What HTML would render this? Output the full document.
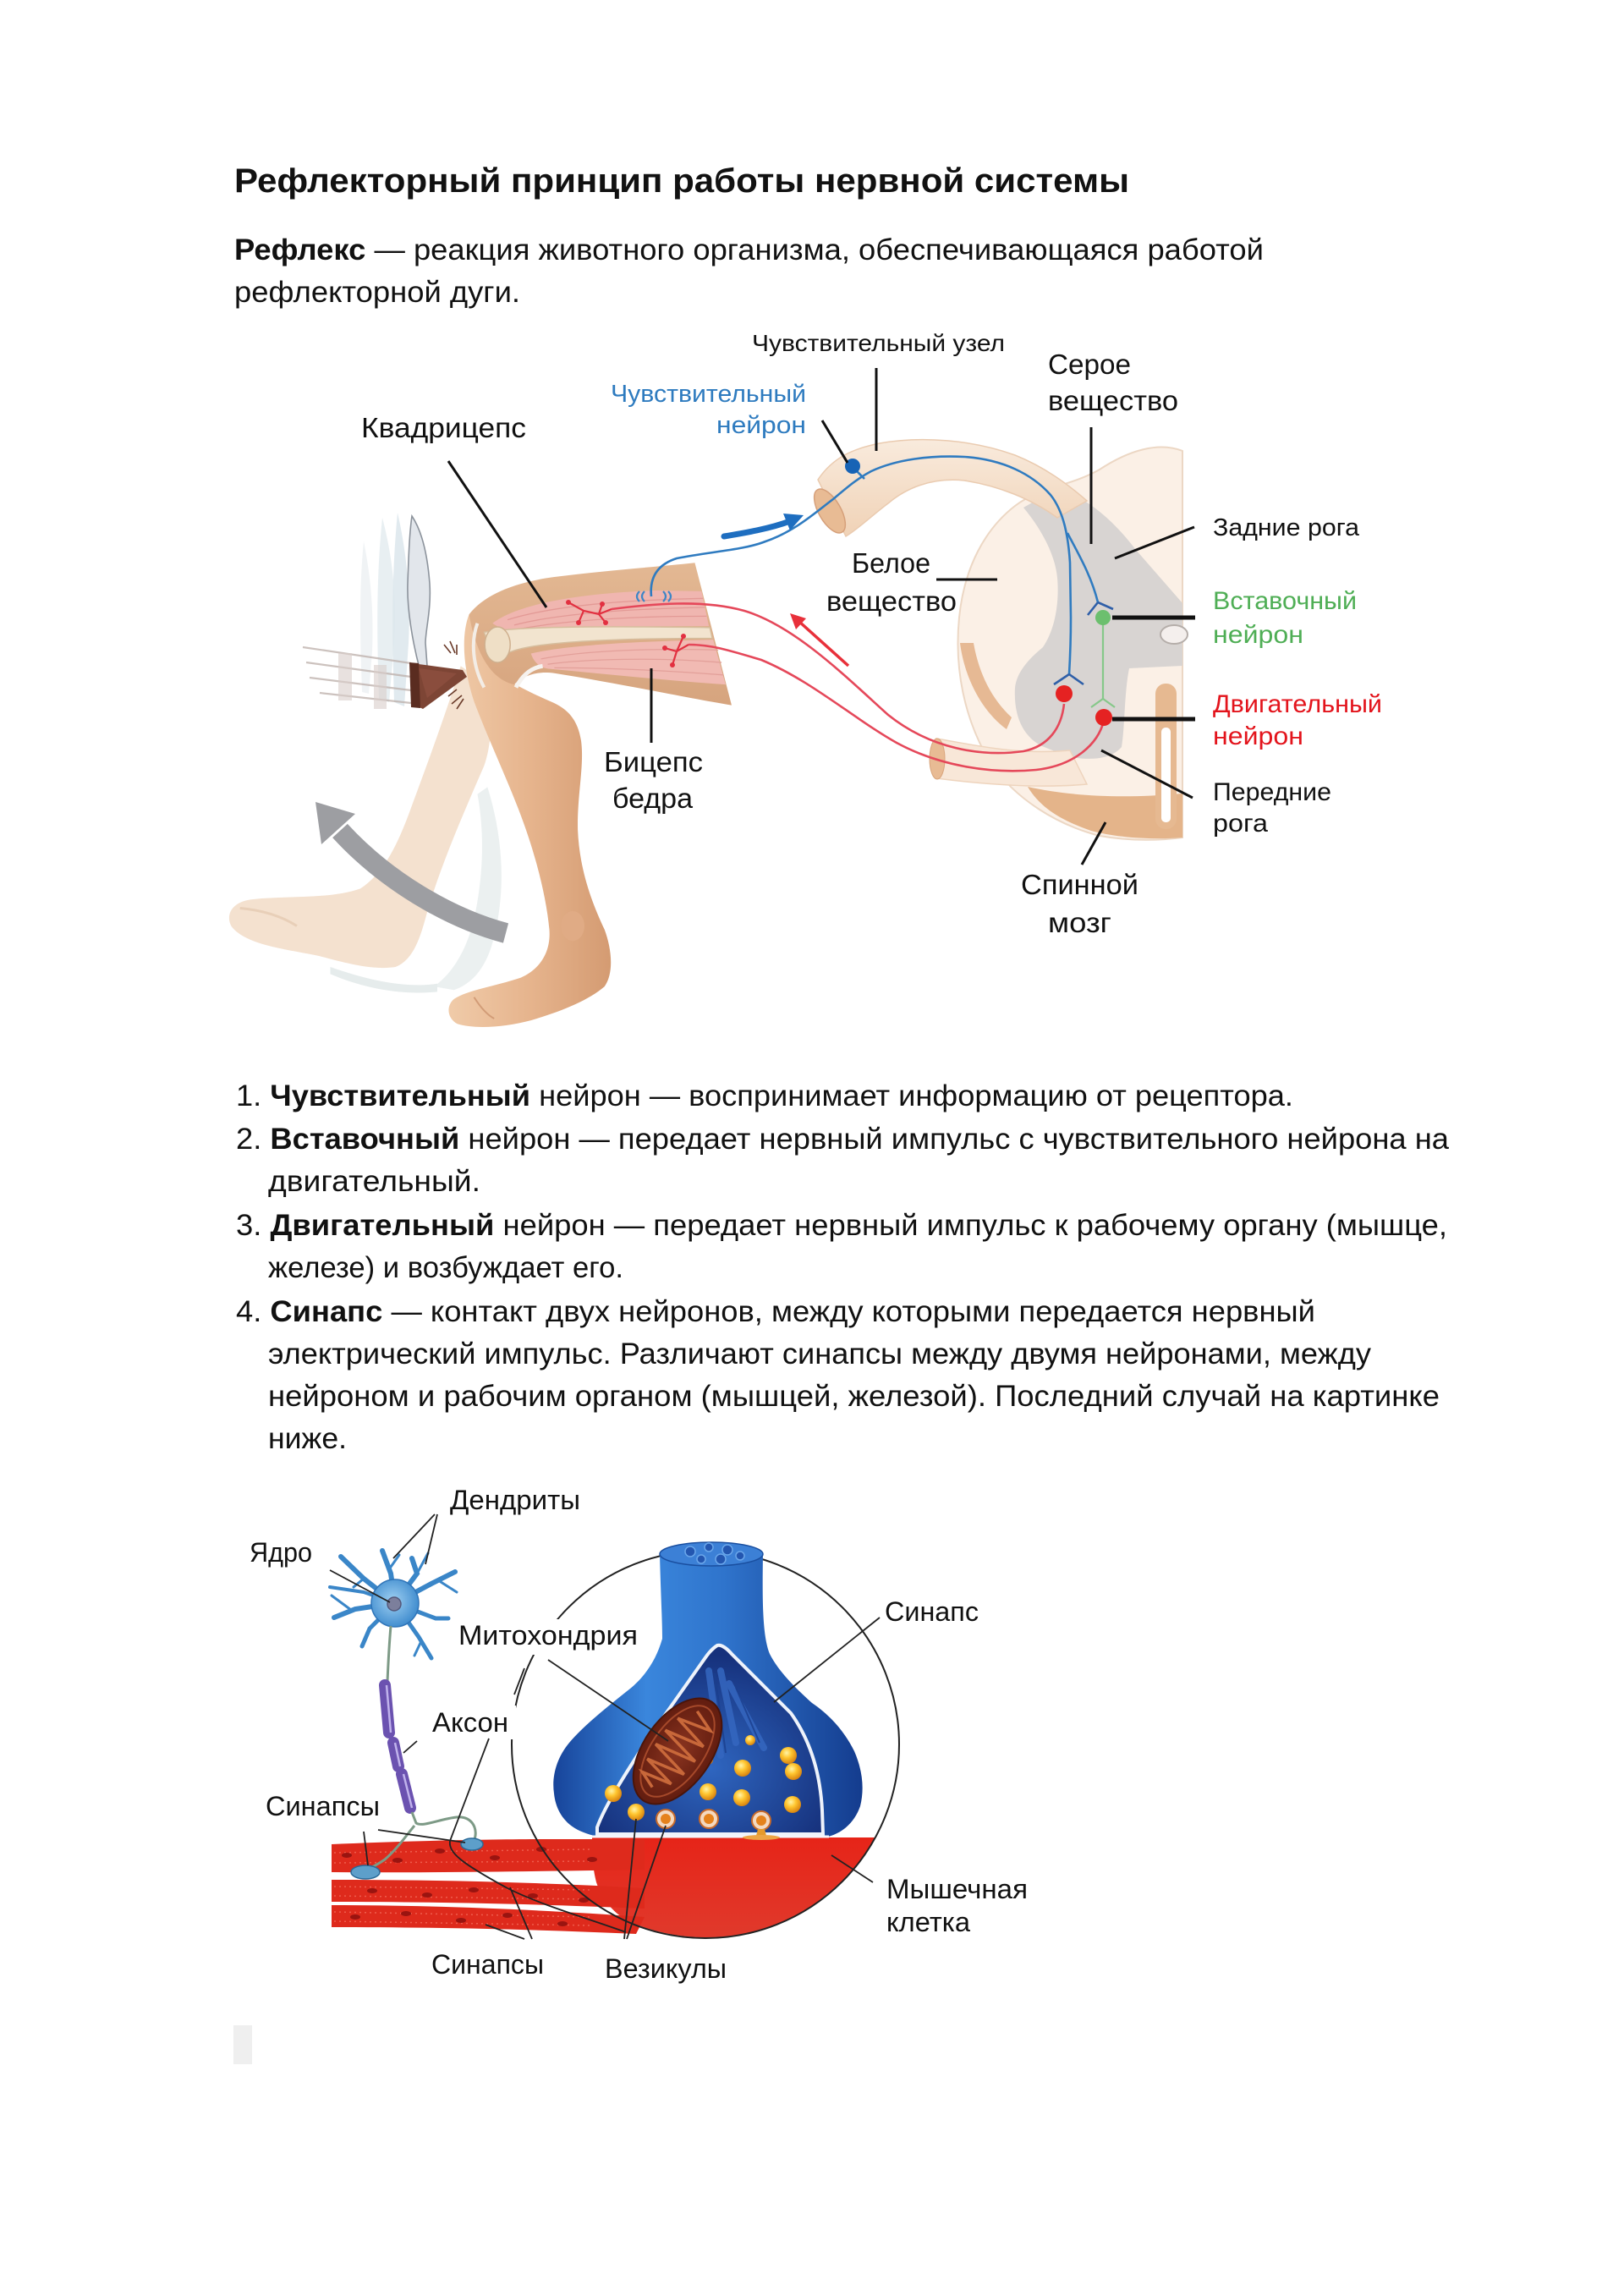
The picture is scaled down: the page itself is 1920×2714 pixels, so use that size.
<!DOCTYPE html>
<html><head><meta charset="utf-8"><title>Рефлекторный принцип работы нервной системы</title>
<style>
html,body{margin:0;padding:0;background:#fff;}
svg{display:block;}
text{font-family:"Liberation Sans",sans-serif;fill:#111;}
</style></head><body>
<svg width="1920" height="2714" viewBox="0 0 1920 2714" xmlns="http://www.w3.org/2000/svg">
<defs>
<linearGradient id="legG" x1="0" y1="0" x2="1" y2="0">
<stop offset="0" stop-color="#f0cba9"/><stop offset=".5" stop-color="#e6b48d"/><stop offset="1" stop-color="#d49b72"/>
</linearGradient>
<linearGradient id="thighG" x1="0" y1="0" x2="0" y2="1">
<stop offset="0" stop-color="#e3b893"/><stop offset="1" stop-color="#d6a47e"/>
</linearGradient>
<linearGradient id="bulbG" x1="0" y1="0" x2="1" y2="0">
<stop offset="0" stop-color="#17449a"/><stop offset=".3" stop-color="#3a86dc"/><stop offset=".55" stop-color="#2f74cc"/><stop offset="1" stop-color="#143c8e"/>
</linearGradient>
<radialGradient id="cutG" cx=".5" cy=".65" r=".6">
<stop offset="0" stop-color="#2f66c0"/><stop offset="1" stop-color="#16317c"/>
</radialGradient>
<radialGradient id="vesG" cx=".4" cy=".35" r=".65">
<stop offset="0" stop-color="#fff4a8"/><stop offset=".45" stop-color="#ffc630"/><stop offset="1" stop-color="#d98410"/>
</radialGradient>
<linearGradient id="redG" x1="0" y1="0" x2="0" y2="1">
<stop offset="0" stop-color="#e62418"/><stop offset="1" stop-color="#e03a2c"/>
</linearGradient>
<radialGradient id="mitoG" cx=".5" cy=".5" r=".6">
<stop offset="0" stop-color="#8a3420"/><stop offset="1" stop-color="#5a180c"/>
</radialGradient>
<radialGradient id="somaG" cx=".45" cy=".45" r=".6">
<stop offset="0" stop-color="#9fd0f2"/><stop offset="1" stop-color="#3a88cc"/>
</radialGradient>
<linearGradient id="rootG" x1="0" y1="0" x2="0" y2="1">
<stop offset="0" stop-color="#f9ebdd"/><stop offset="1" stop-color="#f0d2b6"/>
</linearGradient>
</defs>
<rect width="1920" height="2714" fill="#fff"/>

<!-- ============ TEXT TOP ============ -->
<text x="277" y="227" font-size="40" font-weight="bold" fill="#000" textLength="1058" lengthAdjust="spacingAndGlyphs">Рефлекторный принцип работы нервной системы</text>
<text x="277" y="307" font-size="35" textLength="1217" lengthAdjust="spacingAndGlyphs"><tspan font-weight="bold">Рефлекс</tspan> — реакция животного организма, обеспечивающаяся работой</text>
<text x="277" y="357" font-size="35" textLength="338" lengthAdjust="spacingAndGlyphs">рефлекторной дуги.</text>

<!-- ============ LEG ILLUSTRATION ============ -->
<path d="M452,612 C462,650 470,700 466,760 L460,830 L448,826 C446,760 444,690 452,612 Z" fill="#e4ecf0" opacity=".85"/>
<path d="M470,606 C480,650 486,700 483,760 L478,835 L466,830 C464,760 462,690 470,606 Z" fill="#dce6ec" opacity=".85"/>
<path d="M430,640 C438,680 442,720 440,770 L436,820 L428,818 C426,760 424,700 430,640 Z" fill="#eef2f4" opacity=".9"/>
<g stroke="#bcaea9" stroke-width="2.2" opacity=".75">
<line x1="358" y1="765" x2="486" y2="784"/>
<line x1="362" y1="783" x2="486" y2="800"/>
<line x1="366" y1="801" x2="486" y2="816"/>
<line x1="378" y1="819" x2="486" y2="831"/>
</g>
<rect x="400" y="772" width="16" height="56" fill="#d8cdc9" opacity=".6"/>
<rect x="442" y="786" width="15" height="52" fill="#d8cdc9" opacity=".6"/>

<g transform="translate(260,560) scale(0.3954,0.4209)">
<path d="M720,540 C670,690 610,840 565,955 C525,1055 485,1125 420,1165 C330,1195 200,1185 100,1195 C35,1200 15,1240 35,1272 C80,1325 200,1335 300,1355 C380,1375 460,1395 525,1385 C580,1365 600,1300 620,1230 C660,1100 730,950 790,820 C820,740 815,630 780,580 Z" fill="#f4e1cf"/>
<path d="M60,1220 C120,1225 180,1240 230,1270" stroke="#e8cfb8" stroke-width="3" fill="none" vector-effect="non-scaling-stroke"/>
<path d="M800,880 C840,1000 860,1150 820,1300 C800,1380 760,1430 700,1450 L640,1440 C700,1400 740,1330 760,1250 C790,1120 790,1000 770,900 Z" fill="#e8eded" opacity=".85"/>
<path d="M330,1385 C450,1425 560,1445 650,1432 L650,1455 C540,1465 430,1445 330,1405 Z" fill="#e6ecec"/>
<path d="M745,395 C722,450 725,540 760,640 C800,740 860,860 900,960 C940,1060 975,1180 985,1280 C990,1340 960,1390 900,1415 C820,1440 740,1450 700,1475 C675,1495 680,1530 710,1545 C760,1560 850,1555 930,1535 C1020,1510 1100,1480 1150,1440 C1180,1400 1170,1330 1150,1280 C1110,1200 1075,1110 1070,1000 C1068,900 1090,820 1080,750 C1070,690 1040,660 990,640 C940,620 900,600 880,590 Z" fill="url(#legG)"/>
<ellipse cx="1055" cy="1270" rx="35" ry="42" fill="#e0ab85"/>
<path d="M760,1470 C780,1500 800,1520 820,1530" stroke="#d29c77" stroke-width="2" fill="none" vector-effect="non-scaling-stroke"/>
<path d="M745,395 C790,340 880,305 1000,290 C1150,272 1300,262 1420,250 L1530,650 C1400,630 1200,590 1000,560 C940,552 900,572 880,592 C820,580 768,520 745,395 Z" fill="url(#thighG)"/>
<path d="M815,420 C900,360 1100,335 1300,328 L1440,330 L1462,428 C1300,428 1100,428 930,442 C880,446 845,440 815,420 Z" fill="#f0b6b0"/>
<g stroke="#e39a96" stroke-width="1.3" fill="none">
<path d="M860,410 C1000,370 1200,355 1445,350" vector-effect="non-scaling-stroke"/>
<path d="M880,425 C1000,395 1200,380 1450,375" vector-effect="non-scaling-stroke"/>
<path d="M900,435 C1050,410 1250,400 1455,400" vector-effect="non-scaling-stroke"/>
</g>
<path d="M790,445 C900,428 1150,428 1465,432 L1472,462 C1200,462 950,470 870,500 C835,512 805,490 790,445 Z" fill="#f2e4cf" stroke="#d6bd9d" stroke-width="1.5" vector-effect="non-scaling-stroke"/>
<ellipse cx="830" cy="480" rx="38" ry="50" fill="#efdfc6" stroke="#cfb08f" stroke-width="1.5" vector-effect="non-scaling-stroke"/>
<path d="M930,505 C1050,478 1300,470 1475,466 L1512,592 C1350,582 1150,562 985,548 C955,545 938,528 930,505 Z" fill="#f1bab3"/>
<g stroke="#e3a09a" stroke-width="1.3" fill="none">
<path d="M960,520 C1100,495 1300,490 1490,495" vector-effect="non-scaling-stroke"/>
<path d="M980,535 C1100,520 1300,515 1500,530" vector-effect="non-scaling-stroke"/>
<path d="M1000,545 C1150,545 1300,550 1505,565" vector-effect="non-scaling-stroke"/>
</g>
<path d="M885,600 C905,565 930,545 965,540" stroke="#f6f2ee" stroke-width="5" fill="none" vector-effect="non-scaling-stroke"/>
<path d="M770,420 C750,470 755,540 790,600" stroke="#f3ede6" stroke-width="4" fill="none" vector-effect="non-scaling-stroke"/>
</g>

<!-- hammer -->
<path d="M487,610 C497,625 505,650 508,690 C510,720 503,745 503,760 L505,787 L496,790 C488,760 481,720 482,690 C483,660 484,630 487,610 Z" fill="#e2e6eb" stroke="#8c939c" stroke-width="1.6"/>
<path d="M487,784 L547,792 L552,800 L500,838 L488,832 Z" fill="#7d4535"/>
<path d="M495,790 L540,796 L505,825 Z" fill="#925443" opacity=".6"/>
<path d="M484,783 L495,784 L497,837 L486,836 Z" fill="#5a2c20"/>
<g stroke="#6b3b2a" stroke-width="1.6" fill="none">
<path d="M525,762 l8,10 M532,758 l6,14 M540,762 l0,12"/>
<path d="M530,823 l10,-8 M534,832 l12,-10 M540,838 l8,-12"/>
</g>

<!-- gray arrow -->
<path d="M598,1103 C530,1085 455,1040 402,982" stroke="#9d9ea2" stroke-width="24" fill="none"/>
<polygon points="373,948 420,962 380,998" fill="#9d9ea2"/>

<!-- ============ SPINAL CORD ============ -->
<path d="M1398,533 C1370,522 1335,532 1300,555 C1265,575 1230,575 1200,598 C1165,625 1140,670 1134,730 C1128,790 1140,850 1170,900 C1200,945 1250,975 1300,988 C1340,995 1375,993 1398,990 Z" fill="#fbf0e6" stroke="#ecd7c4" stroke-width="2"/>
<path d="M1135,760 C1140,800 1160,840 1190,862 L1196,848 C1172,826 1157,795 1151,760 Z" fill="#e6b994"/>
<path d="M1215,930 C1260,940 1320,945 1398,938 L1398,990 C1360,993 1320,990 1290,982 C1255,970 1230,955 1215,930 Z" fill="#e4b48a"/>
<path d="M1210,600 L1250,577 C1290,590 1320,620 1343,650 L1398,713 L1398,787 L1335,790 C1329,820 1330,860 1326,883 C1314,897 1290,900 1262,894 L1232,882 C1212,872 1198,850 1200,813 C1202,795 1215,780 1233,765 C1250,740 1252,705 1250,683 C1248,660 1235,630 1210,600 Z" fill="#d8d4d2"/>
<ellipse cx="1388" cy="750" rx="16" ry="11" fill="#f4efed" stroke="#b5aeaa" stroke-width="2"/>
<rect x="1366" y="808" width="25" height="172" rx="12" fill="#e6b991"/>
<rect x="1373" y="860" width="11" height="112" rx="5" fill="#fff"/>
<path d="M1107,873 C1150,880 1200,893 1265,887 L1285,927 C1230,932 1170,928 1107,920 Z" fill="#f8e7d8" stroke="#eed4bd" stroke-width="1.5"/>
<ellipse cx="1108" cy="897" rx="9" ry="24" fill="#e8bb94" stroke="#d9a57c" stroke-width="1"/>
<path d="M967,567 C985,540 1010,530 1040,524 C1090,515 1150,520 1200,538 C1235,552 1262,572 1285,592 L1250,612 C1220,590 1180,574 1140,568 C1100,564 1070,578 1050,595 C1030,610 1015,625 1000,634 Z" fill="url(#rootG)" stroke="#eacbb0" stroke-width="1.5"/>
<ellipse cx="981" cy="604" rx="13" ry="29" transform="rotate(-30 981 604)" fill="#e8bb94" stroke="#d6a07a" stroke-width="1.5"/>

<!-- nerves -->
<path d="M770,705 C768,685 775,668 800,660 C840,652 880,650 905,640 C940,628 965,605 985,590 C1005,573 1015,565 1030,557 C1060,543 1100,538 1140,540 C1185,543 1220,560 1242,585 C1258,605 1263,635 1265,665 L1266,730 C1266,760 1265,780 1264,797" stroke="#2f7bc0" stroke-width="2.6" fill="none"/>
<path d="M1262,630 C1275,655 1290,680 1298,712" stroke="#2f7bc0" stroke-width="2.6" fill="none"/>
<path d="M1298,712 L1286,727 M1298,712 L1316,720" stroke="#2f5fa8" stroke-width="2.6" fill="none"/>
<path d="M1264,797 L1246,809 M1264,797 L1281,809" stroke="#2f5fa8" stroke-width="2.6" fill="none"/>
<line x1="1008" y1="552" x2="1022" y2="566" stroke="#2f7bc0" stroke-width="2.6"/>
<circle cx="1008" cy="551" r="9" fill="#1763b5"/>
<g stroke="#3d86c6" stroke-width="2.2" fill="none">
<path d="M756,699 q-6,6 0,12 M762,699 q-6,6 0,12 M784,699 q6,6 0,12 M790,699 q6,6 0,12"/>
</g>
<line x1="1304" y1="730" x2="1304" y2="826" stroke="#86c88a" stroke-width="2.2"/>
<path d="M1304,826 L1290,836 M1304,826 L1318,836" stroke="#86c88a" stroke-width="2.2" fill="none"/>
<circle cx="1304" cy="730" r="9" fill="#6cbf6e"/>
<path d="M723,720 C770,714 830,708 880,722 C940,740 1000,800 1050,845 C1100,885 1160,895 1210,888 C1240,882 1255,860 1258,832" stroke="#e5485a" stroke-width="2.6" fill="none"/>
<path d="M814,762 C840,762 860,768 900,780 C960,805 1010,850 1060,878 C1110,905 1170,915 1225,910 C1270,905 1298,880 1305,852" stroke="#e5485a" stroke-width="2.6" fill="none"/>
<circle cx="1258" cy="820" r="10" fill="#e52222"/>
<circle cx="1305" cy="848" r="10" fill="#e52222"/>
<g stroke="#e23040" stroke-width="2.2" fill="none">
<path d="M672,712 L690,722 L708,726 L723,720 M690,722 L684,736 M708,726 L712,714 M708,726 L716,736"/>
<path d="M786,766 L800,770 L814,762 M800,770 L795,786 M800,770 L808,752"/>
</g>
<g fill="#e23040">
<circle cx="672" cy="712" r="3"/><circle cx="684" cy="736" r="3"/><circle cx="712" cy="714" r="3"/><circle cx="716" cy="736" r="3"/>
<circle cx="786" cy="766" r="3"/><circle cx="795" cy="786" r="3"/><circle cx="808" cy="752" r="3"/>
</g>
<path d="M856,634 C880,630 910,625 934,616" stroke="#1e6ec0" stroke-width="7" stroke-linecap="round" fill="none"/>
<polygon points="950,609 934,627 926,607" fill="#1e6ec0"/>
<line x1="1003" y1="787" x2="944" y2="734" stroke="#e8303a" stroke-width="3.5"/>
<polygon points="934,725 953,731 941,744" fill="#e8303a"/>

<!-- leaders top -->
<g stroke="#111" stroke-width="3" fill="none">
<line x1="530" y1="545" x2="646" y2="718"/>
<line x1="972" y1="497" x2="1002" y2="547"/>
<line x1="1036" y1="435" x2="1036" y2="533"/>
<line x1="1290" y1="505" x2="1290" y2="643"/>
<line x1="1412" y1="623" x2="1318" y2="660"/>
<line x1="1107" y1="685" x2="1179" y2="685"/>
<line x1="1302" y1="887" x2="1410" y2="943"/>
<line x1="1307" y1="972" x2="1279" y2="1022"/>
<line x1="770" y1="790" x2="770" y2="878"/>
</g>
<line x1="1315" y1="730" x2="1413" y2="730" stroke="#111" stroke-width="5"/>
<line x1="1315" y1="850" x2="1413" y2="850" stroke="#111" stroke-width="5"/>

<text x="889" y="415" font-size="28" textLength="299" lengthAdjust="spacingAndGlyphs">Чувствительный узел</text>
<text x="1239" y="442" font-size="33" textLength="98" lengthAdjust="spacingAndGlyphs">Серое</text>
<text x="1239" y="485" font-size="33" textLength="154" lengthAdjust="spacingAndGlyphs">вещество</text>
<text x="722" y="475" font-size="29" style="fill:#2e7bbf" textLength="231" lengthAdjust="spacingAndGlyphs">Чувствительный</text>
<text x="847" y="512" font-size="29" style="fill:#2e7bbf" textLength="106" lengthAdjust="spacingAndGlyphs">нейрон</text>
<text x="427" y="517" font-size="33" textLength="195" lengthAdjust="spacingAndGlyphs">Квадрицепс</text>
<text x="1434" y="633" font-size="29" textLength="173" lengthAdjust="spacingAndGlyphs">Задние рога</text>
<text x="1007" y="677" font-size="33" textLength="93" lengthAdjust="spacingAndGlyphs">Белое</text>
<text x="977" y="722" font-size="33" textLength="154" lengthAdjust="spacingAndGlyphs">вещество</text>
<text x="1434" y="720" font-size="30" style="fill:#4fae55" textLength="170" lengthAdjust="spacingAndGlyphs">Вставочный</text>
<text x="1434" y="760" font-size="30" style="fill:#4fae55" textLength="107" lengthAdjust="spacingAndGlyphs">нейрон</text>
<text x="1434" y="842" font-size="30" style="fill:#e3141c" textLength="200" lengthAdjust="spacingAndGlyphs">Двигательный</text>
<text x="1434" y="880" font-size="30" style="fill:#e3141c" textLength="107" lengthAdjust="spacingAndGlyphs">нейрон</text>
<text x="714" y="912" font-size="33" textLength="117" lengthAdjust="spacingAndGlyphs">Бицепс</text>
<text x="724" y="955" font-size="33" textLength="95" lengthAdjust="spacingAndGlyphs">бедра</text>
<text x="1434" y="946" font-size="30" textLength="140" lengthAdjust="spacingAndGlyphs">Передние</text>
<text x="1434" y="983" font-size="30" textLength="65" lengthAdjust="spacingAndGlyphs">рога</text>
<text x="1207" y="1057" font-size="33" textLength="139" lengthAdjust="spacingAndGlyphs">Спинной</text>
<text x="1239" y="1102" font-size="33" textLength="75" lengthAdjust="spacingAndGlyphs">мозг</text>

<!-- ============ LIST ============ -->
<text x="279" y="1307" font-size="35" textLength="1250" lengthAdjust="spacingAndGlyphs">1. <tspan font-weight="bold">Чувствительный</tspan> нейрон — воспринимает информацию от рецептора.</text>
<text x="279" y="1358" font-size="35" textLength="1434" lengthAdjust="spacingAndGlyphs">2. <tspan font-weight="bold">Вставочный</tspan> нейрон — передает нервный импульс с чувствительного нейрона на</text>
<text x="317" y="1408" font-size="35" textLength="251" lengthAdjust="spacingAndGlyphs">двигательный.</text>
<text x="279" y="1460" font-size="35" textLength="1432" lengthAdjust="spacingAndGlyphs">3. <tspan font-weight="bold">Двигательный</tspan> нейрон — передает нервный импульс к рабочему органу (мышце,</text>
<text x="317" y="1510" font-size="35" textLength="420" lengthAdjust="spacingAndGlyphs">железе) и возбуждает его.</text>
<text x="279" y="1562" font-size="35" textLength="1276" lengthAdjust="spacingAndGlyphs">4. <tspan font-weight="bold">Синапс</tspan> — контакт двух нейронов, между которыми передается нервный</text>
<text x="317" y="1612" font-size="35" textLength="1304" lengthAdjust="spacingAndGlyphs">электрический импульс. Различают синапсы между двумя нейронами, между</text>
<text x="317" y="1662" font-size="35" textLength="1385" lengthAdjust="spacingAndGlyphs">нейроном и рабочим органом (мышцей, железой). Последний случай на картинке</text>
<text x="317" y="1712" font-size="35" textLength="93" lengthAdjust="spacingAndGlyphs">ниже.</text>

<!-- ============ SYNAPSE DIAGRAM ============ -->
<path d="M700,2172 L1035,2172 A229,229 0 0 1 745,2272 C725,2262 712,2245 705,2225 C700,2205 700,2190 700,2172 Z" fill="url(#redG)"/>
<path d="M392,2180 C480,2176 580,2174 650,2174 L762,2174 L762,2210 C640,2212 500,2214 392,2213 Z" fill="#de2a1c"/>
<path d="M392,2222 C500,2222 620,2224 762,2232 L762,2256 C620,2250 500,2248 392,2248 Z" fill="#de2a1c"/>
<path d="M392,2252 C500,2252 620,2256 762,2266 L752,2286 C620,2280 500,2278 392,2278 Z" fill="#de2a1c"/>
<g stroke="#f26a5a" stroke-width="1.5" stroke-dasharray="2 4" fill="none" opacity=".8">
<path d="M395,2190 L700,2186"/><path d="M395,2202 L700,2200"/>
<path d="M395,2230 L700,2234"/><path d="M395,2241 L700,2245"/>
<path d="M395,2260 L700,2266"/><path d="M395,2271 L700,2276"/>
</g>
<g fill="#9a1410">
<ellipse cx="410" cy="2193" rx="6" ry="3"/><ellipse cx="470" cy="2199" rx="6" ry="3"/><ellipse cx="520" cy="2188" rx="6" ry="3"/><ellipse cx="585" cy="2196" rx="6" ry="3"/><ellipse cx="640" cy="2186" rx="6" ry="3"/><ellipse cx="700" cy="2198" rx="6" ry="3"/>
<ellipse cx="440" cy="2235" rx="6" ry="3"/><ellipse cx="505" cy="2240" rx="6" ry="3"/><ellipse cx="560" cy="2234" rx="6" ry="3"/><ellipse cx="630" cy="2241" rx="6" ry="3"/><ellipse cx="690" cy="2246" rx="6" ry="3"/>
<ellipse cx="420" cy="2266" rx="6" ry="3"/><ellipse cx="480" cy="2262" rx="6" ry="3"/><ellipse cx="545" cy="2270" rx="6" ry="3"/><ellipse cx="600" cy="2264" rx="6" ry="3"/><ellipse cx="665" cy="2274" rx="6" ry="3"/>
</g>
<circle cx="834" cy="2062" r="229" fill="none" stroke="#222" stroke-width="2"/>
<path d="M780,1837 C781,1880 783,1915 783,1937 C775,1965 760,1985 740,2000 C715,2020 690,2040 673,2060 C658,2078 652,2100 655,2120 C657,2140 668,2158 690,2166 C700,2170 710,2172 720,2172 L975,2172 C995,2168 1010,2155 1017,2135 C1022,2115 1020,2093 1010,2070 C1000,2050 985,2030 960,2013 C940,1995 920,1975 910,1955 C902,1935 901,1900 902,1837 Z" fill="url(#bulbG)"/>
<ellipse cx="841" cy="1837" rx="61" ry="14" fill="#3c80d6" stroke="#1a4fa0" stroke-width="1.5"/>
<g fill="#2356b0" stroke="#6aa6ea" stroke-width="1.5">
<circle cx="816" cy="1834" r="6"/><circle cx="838" cy="1829" r="5"/><circle cx="860" cy="1832" r="6"/><circle cx="829" cy="1843" r="5"/><circle cx="852" cy="1843" r="6"/><circle cx="875" cy="1839" r="5"/>
</g>
<path d="M848,1945 C840,1950 835,1958 830,1965 L770,2050 C740,2095 715,2135 706,2160 L706,2168 L973,2168 L972,2140 C970,2100 960,2060 935,2025 L865,1955 C858,1947 852,1944 848,1945 Z" fill="url(#cutG)" stroke="#eef3fb" stroke-width="4"/>
<line x1="700" y1="2171" x2="980" y2="2171" stroke="#f4f6fb" stroke-width="3"/>
<g stroke="#3567c0" stroke-width="8" stroke-linecap="round" opacity=".85">
<line x1="838" y1="1975" x2="852" y2="2075"/>
<line x1="852" y1="1975" x2="870" y2="2060"/>
<line x1="862" y1="1990" x2="903" y2="2066"/>
</g>
<g stroke="#1b3f8e" stroke-width="2" opacity=".8">
<line x1="845" y1="1978" x2="858" y2="2072"/>
<line x1="870" y1="1995" x2="898" y2="2060"/>
</g>
<g fill="url(#vesG)">
<circle cx="887" cy="2057" r="6"/><circle cx="837" cy="2080" r="6"/>
<circle cx="932" cy="2075" r="10"/><circle cx="938" cy="2094" r="10"/><circle cx="878" cy="2090" r="10"/>
<circle cx="837" cy="2118" r="10"/><circle cx="877" cy="2125" r="10"/><circle cx="937" cy="2133" r="10"/>
<circle cx="725" cy="2120" r="10"/><circle cx="752" cy="2142" r="10"/>
</g>
<g>
<circle cx="787" cy="2150" r="11" fill="#f4d9c0" stroke="#c86a2a" stroke-width="2"/><circle cx="787" cy="2150" r="6" fill="#e5821c"/>
<circle cx="838" cy="2150" r="11" fill="#f4d9c0" stroke="#c86a2a" stroke-width="2"/><circle cx="838" cy="2150" r="6" fill="#e5821c"/>
<circle cx="900" cy="2152" r="11" fill="#f4d9c0" stroke="#c86a2a" stroke-width="2"/><circle cx="900" cy="2152" r="6" fill="#e5821c"/>
<path d="M896,2162 L904,2162 L906,2170 L894,2170 Z" fill="#e59a2c"/>
<ellipse cx="900" cy="2172" rx="22" ry="3" fill="#eda544"/>
</g>
<g transform="translate(801,2070) rotate(-55)">
<ellipse cx="0" cy="0" rx="71" ry="40" fill="url(#mitoG)" stroke="#4a150a" stroke-width="2"/>
<ellipse cx="0" cy="0" rx="62" ry="31" fill="none" stroke="#a6492a" stroke-width="2"/>
<path d="M-52,0 L-44,-20 L-36,16 L-28,-24 L-18,22 L-8,-26 L2,24 L12,-26 L22,22 L32,-22 L42,18 L52,-8" stroke="#c8683a" stroke-width="3.5" fill="none"/>
</g>

<!-- neuron -->
<g stroke="#3a86c8" stroke-linecap="round" fill="none">
<path d="M467,1895 L430,1866 L403,1840" stroke-width="6"/>
<path d="M430,1866 L418,1876" stroke-width="3"/>
<path d="M467,1895 L462,1860 L452,1833" stroke-width="6"/>
<path d="M460,1855 L472,1838" stroke-width="3"/>
<path d="M467,1895 L493,1860 L487,1842" stroke-width="6"/>
<path d="M493,1860 L506,1836" stroke-width="3"/>
<path d="M467,1895 L510,1872 L538,1858" stroke-width="6"/>
<path d="M518,1868 L540,1882" stroke-width="3"/>
<path d="M467,1895 L515,1913 L530,1913" stroke-width="5"/>
<path d="M467,1895 L495,1935 L510,1960" stroke-width="5"/>
<path d="M498,1940 L490,1957" stroke-width="3"/>
<path d="M467,1895 L437,1925 L428,1946" stroke-width="5"/>
<path d="M467,1895 L420,1902 L395,1912" stroke-width="6"/>
<path d="M415,1903 L392,1886" stroke-width="3"/>
<path d="M467,1895 L430,1882 L390,1876" stroke-width="4"/>
</g>
<circle cx="467" cy="1895" r="28" fill="url(#somaG)" stroke="#2f74b8" stroke-width="1.5"/>
<circle cx="466" cy="1896" r="8" fill="#7c7f9c" stroke="#55587a" stroke-width="1.5"/>
<path d="M462,1922 C460,1945 459,1965 458,1988" stroke="#7d9a86" stroke-width="3" fill="none"/>
<g stroke="#6b52b0" stroke-width="14" stroke-linecap="round">
<line x1="455" y1="1992" x2="460" y2="2048"/>
<line x1="465" y1="2060" x2="471" y2="2088"/>
<line x1="475" y1="2097" x2="485" y2="2137"/>
</g>
<g stroke="#c0b2ec" stroke-width="2.5">
<line x1="457" y1="1992" x2="462" y2="2048"/>
<line x1="467" y1="2060" x2="473" y2="2088"/>
<line x1="477" y1="2097" x2="487" y2="2137"/>
</g>
<path d="M487,2142 L492,2155 C500,2160 520,2150 540,2148 C560,2146 566,2165 560,2176" stroke="#7d9a86" stroke-width="3" fill="none"/>
<path d="M490,2158 C480,2170 470,2185 455,2198 C445,2205 438,2208 433,2210" stroke="#7d9a86" stroke-width="3" fill="none"/>
<ellipse cx="558" cy="2180" rx="13" ry="7" fill="#5d9fca" stroke="#2a6a98" stroke-width="1.5"/>
<ellipse cx="432" cy="2213" rx="17" ry="8" fill="#5d9fca" stroke="#2a6a98" stroke-width="1.5"/>

<!-- white label backgrounds hiding circle -->
<rect x="538" y="1914" width="222" height="42" fill="#fff"/>
<rect x="506" y="2016" width="104" height="40" fill="#fff"/>

<g stroke="#222" stroke-width="1.8" fill="none">
<line x1="514" y1="1790" x2="465" y2="1842"/>
<line x1="517" y1="1790" x2="503" y2="1849"/>
<line x1="390" y1="1856" x2="461" y2="1894"/>
<line x1="1040" y1="1912" x2="915" y2="2012"/>
<line x1="648" y1="1962" x2="790" y2="2058"/>
<line x1="620" y1="1972" x2="608" y2="2003"/>
<line x1="493" y1="2058" x2="477" y2="2072"/>
<path d="M578,2055 L532,2176 C530,2190 545,2202 600,2232 C640,2252 690,2266 740,2284"/>
<line x1="447" y1="2163" x2="550" y2="2178"/>
<line x1="430" y1="2165" x2="435" y2="2205"/>
<line x1="629" y1="2292" x2="603" y2="2231"/>
<line x1="620" y1="2292" x2="574" y2="2275"/>
<line x1="738" y1="2292" x2="752" y2="2150"/>
<line x1="741" y1="2292" x2="787" y2="2158"/>
<line x1="1032" y1="2225" x2="983" y2="2193"/>
</g>

<text x="532" y="1784" font-size="32" textLength="154" lengthAdjust="spacingAndGlyphs">Дендриты</text>
<text x="295" y="1846" font-size="32" textLength="74" lengthAdjust="spacingAndGlyphs">Ядро</text>
<text x="1046" y="1916" font-size="32" textLength="111" lengthAdjust="spacingAndGlyphs">Синапс</text>
<text x="542" y="1944" font-size="32" textLength="212" lengthAdjust="spacingAndGlyphs">Митохондрия</text>
<text x="511" y="2047" font-size="32" textLength="90" lengthAdjust="spacingAndGlyphs">Аксон</text>
<text x="314" y="2146" font-size="32" textLength="135" lengthAdjust="spacingAndGlyphs">Синапсы</text>
<text x="1048" y="2244" font-size="32" textLength="167" lengthAdjust="spacingAndGlyphs">Мышечная</text>
<text x="1048" y="2283" font-size="32" textLength="99" lengthAdjust="spacingAndGlyphs">клетка</text>
<text x="510" y="2333" font-size="32" textLength="133" lengthAdjust="spacingAndGlyphs">Синапсы</text>
<text x="715" y="2338" font-size="32" textLength="144" lengthAdjust="spacingAndGlyphs">Везикулы</text>

<rect x="276" y="2394" width="22" height="46" fill="#efefef"/>
</svg>
</body></html>
